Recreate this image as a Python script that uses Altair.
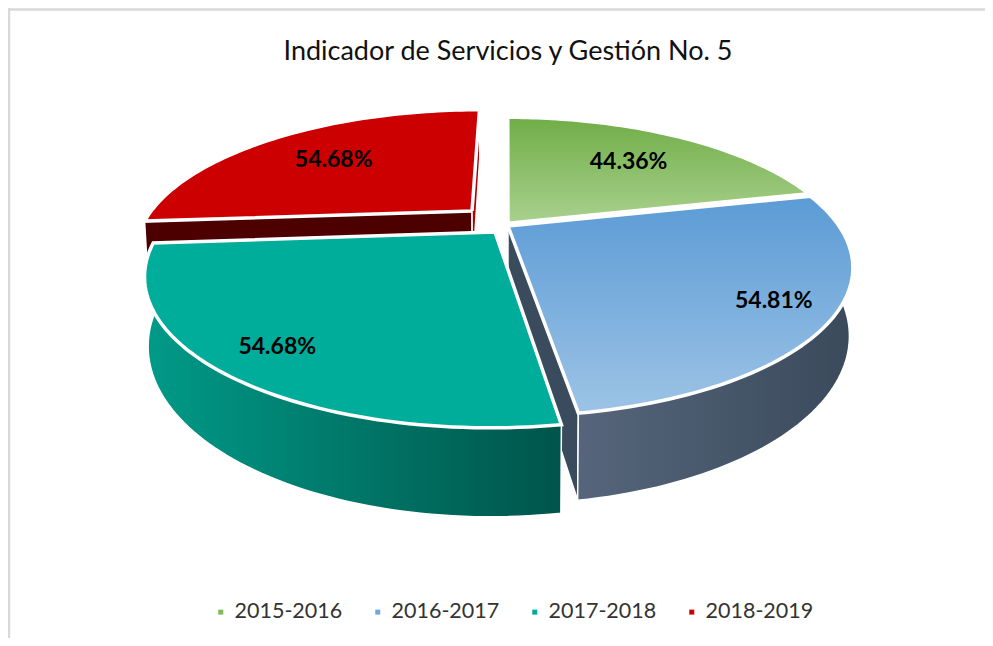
import math
import altair as alt
import pandas as pd

TITLE = "Indicador de Servicios y Gestión No. 5"
PERIODS = ["2015-2016", "2016-2017", "2017-2018", "2018-2019"]
VALUES = [44.36, 54.81, 54.68, 54.68]
LABELS = ["44.36%", "54.81%", "54.68%", "54.68%"]
LEGEND_COLORS = ["#7FBA5B", "#6FA8DC", "#00AC9A", "#CC0000"]

# tilted-disc view of the pie
CX, CY, R, B, P = 507.0, 226.0, 331.0, 137.0, 0.28
DEPTH, SHRINK = 63.0, 0.99
EXPLODE = [(0.003, 0.02), (0.003, 0.0), (-0.036, -0.043), (-0.109, 0.113)]
LABEL_R = [0.68, 0.84, 0.84, 0.68]


def project(theta, r, off, bottom=False):
    t = math.radians(theta)
    u = r * math.sin(t) + off[0]
    v = r * math.cos(t) + off[1]
    den = 1 + P * v
    x = CX + R * u / den
    y = CY - B * v / den
    if bottom:
        x = CX + SHRINK * (x - CX)
        y = y + DEPTH / den
    return x, y


total = sum(VALUES)
edges = [0.0]
for val in VALUES:
    edges.append(edges[-1] + val / total * 360)


def arc(a, b, off, bottom=False, n=70):
    return [project(a + (b - a) * k / n, 1, off, bottom) for k in range(n + 1)]


def frame(points):
    closed = list(points) + [points[0]]
    return pd.DataFrame({"x": [p[0] for p in closed], "y": [p[1] for p in closed], "i": range(len(closed))})


def top_face(s):
    off = EXPLODE[s]
    return frame([project(0, 0, off)] + arc(edges[s], edges[s + 1], off))


def side_face(s):
    off = EXPLODE[s]
    return frame(arc(edges[s], edges[s + 1], off) + arc(edges[s], edges[s + 1], off, True)[::-1])


def cut_face(s, theta):
    off = EXPLODE[s]
    return frame([project(0, 0, off), project(theta, 1, off), project(theta, 1, off, True), project(0, 0, off, True)])


xs = alt.Scale(domain=[8, 985], nice=False, zero=False)
ys = alt.Scale(domain=[638, 8], nice=False, zero=False)


def grad(stops, horizontal=False):
    return alt.LinearGradient(
        gradient="linear",
        stops=[alt.GradientStop(offset=i / (len(stops) - 1), color=c) for i, c in enumerate(stops)],
        x1=0, y1=0, x2=1 if horizontal else 0, y2=0 if horizontal else 1,
    )


def poly(df, fill, sw=3.5):
    return alt.Chart(df).mark_line(fill=fill, stroke="white", strokeWidth=sw, strokeJoin="miter").encode(
        x=alt.X("x:Q", scale=xs, axis=None),
        y=alt.Y("y:Q", scale=ys, axis=None),
        order=alt.Order("i:Q"),
    )


layers = [
    poly(cut_face(1, edges[2]), "#3B4B5E", 1.5),
    poly(side_face(1), grad(["#56657B", "#3A4A5B"], True), 1.5),
    poly(side_face(2), grad(["#009A88", "#00544A"], True), 1.5),
    poly(cut_face(3, edges[3]), "#4D0000", 1.5),
    poly(cut_face(3, edges[4]), "#B00000", 1.5),
    poly(top_face(3), "#CC0000"),
    poly(top_face(2), "#00AC9A"),
    poly(top_face(0), grad(["#70AD47", "#A9D18E"])),
    poly(top_face(1), grad(["#5B9BD5", "#9DC3E6"])),
]

# slice labels
lab_pts = []
for s in range(4):
    mid = (edges[s] + edges[s + 1]) / 2
    lab_pts.append(project(mid, LABEL_R[s], EXPLODE[s]))
labels = pd.DataFrame({"x": [p[0] for p in lab_pts], "y": [p[1] for p in lab_pts], "t": LABELS})
layers.append(
    alt.Chart(labels).mark_text(font="Lato", fontSize=23, fontWeight="bold", color="black", dy=1.5).encode(
        x=alt.X("x:Q", scale=xs, axis=None), y=alt.Y("y:Q", scale=ys, axis=None), text="t:N"
    )
)

# legend carrier
legend_df = pd.DataFrame({"period": PERIODS, "x": [p[0] for p in lab_pts], "y": [p[1] for p in lab_pts]})
layers.append(
    alt.Chart(legend_df).mark_square(opacity=0, size=25).encode(
        x=alt.X("x:Q", scale=xs, axis=None),
        y=alt.Y("y:Q", scale=ys, axis=None),
        color=alt.Color(
            "period:N",
            scale=alt.Scale(domain=PERIODS, range=LEGEND_COLORS),
            legend=alt.Legend(
                title=None, orient="none", legendX=202, legendY=593, direction="horizontal", columns=4,
                symbolType="square", symbolSize=25, symbolOpacity=1, symbolStrokeWidth=0,
                labelFont="Lato", labelFontSize=21.5, labelColor="#333333", labelOffset=3, columnPadding=24,
                labelLimit=200,
            ),
        ),
    )
)

# chart frame
layers.append(alt.Chart(pd.DataFrame({"a": [0]})).mark_rule(color="#D9D9D9", strokeWidth=2.5).encode(
    x=alt.value(1), y=alt.value(0), y2=alt.value(630)))
layers.append(alt.Chart(pd.DataFrame({"a": [0]})).mark_rule(color="#D9D9D9", strokeWidth=2.5).encode(
    y=alt.value(1.5), x=alt.value(0), x2=alt.value(977)))

chart = alt.layer(*layers).properties(
    width=977, height=630, padding=0, autosize=alt.AutoSizeParams(type="none"),
    title=alt.TitleParams(TITLE, font="Lato", fontSize=27, fontWeight="normal", color="#111111",
                          anchor="middle", dx=11.5, dy=59, offset=0),
).configure_view(stroke=None)

chart.save("out.html", embed_options={"renderer": "svg", "actions": False})
